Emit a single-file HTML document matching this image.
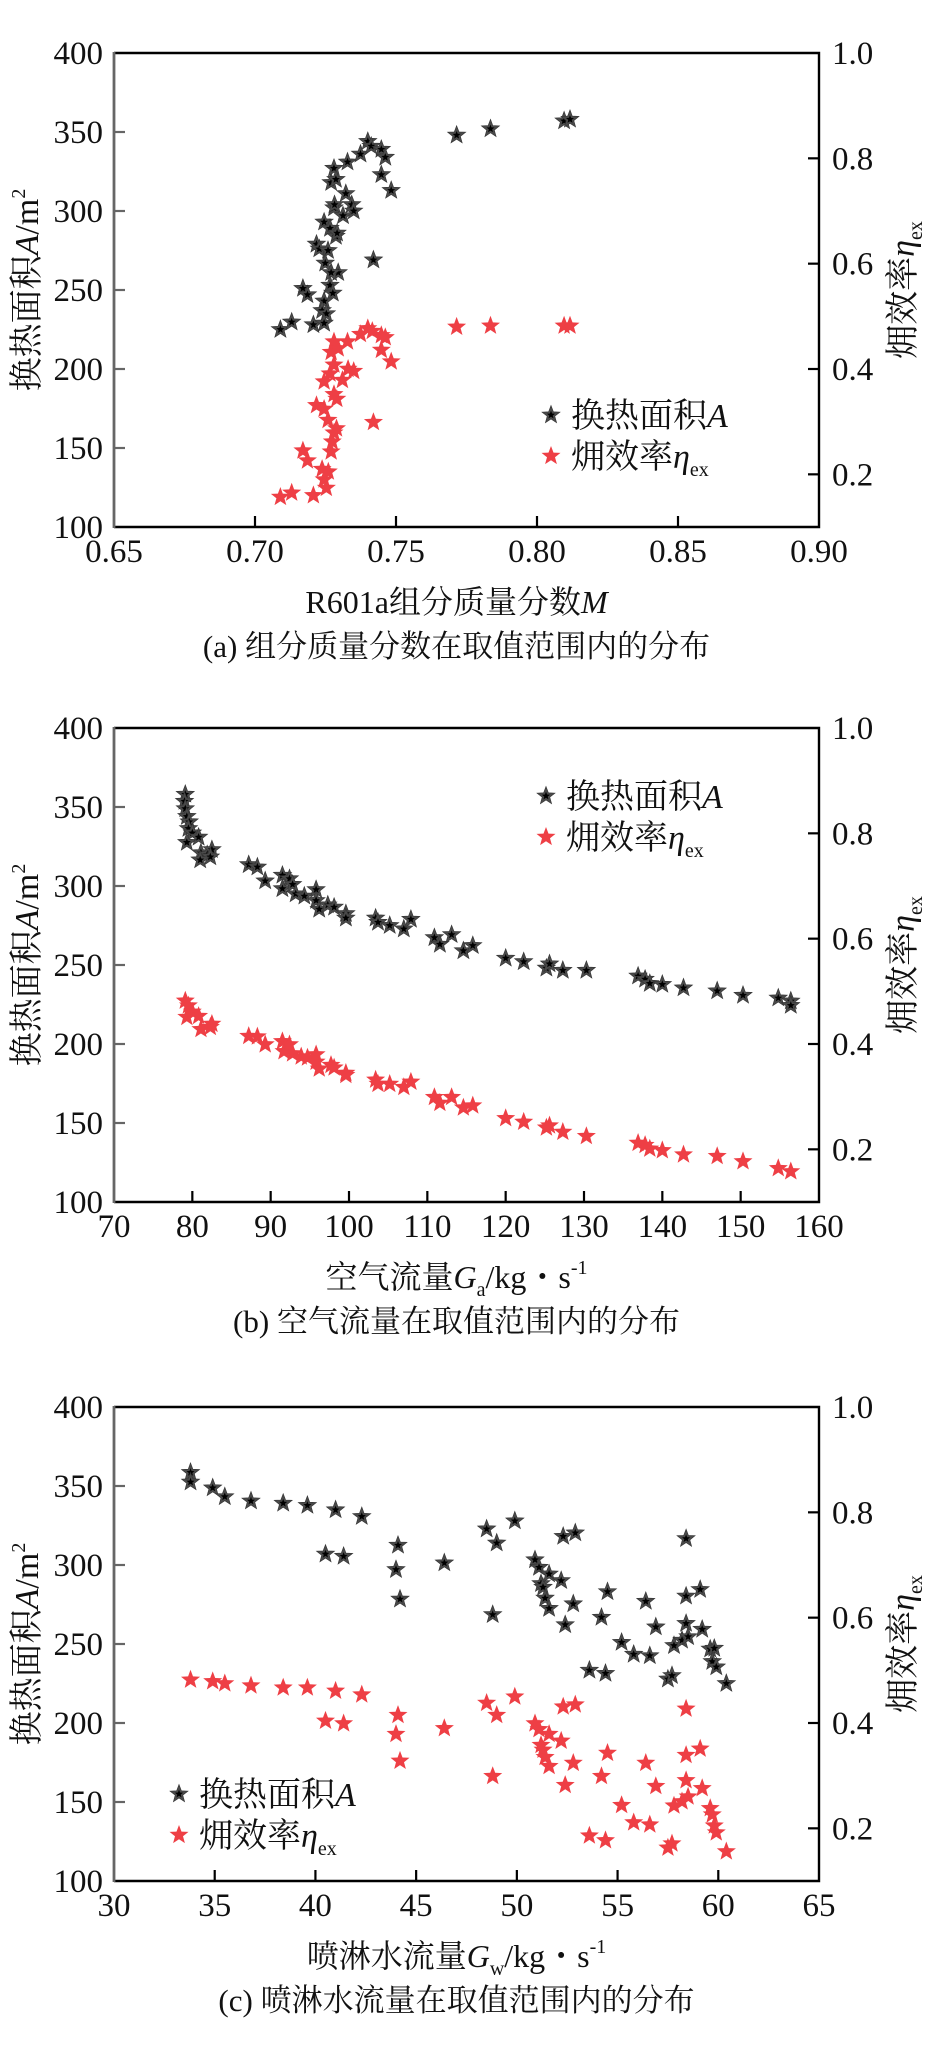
<!DOCTYPE html>
<html><head><meta charset="utf-8">
<style>
html,body{margin:0;padding:0;background:#fff;}
svg{display:block;}
text{font-family:"Liberation Serif","Noto Serif CJK SC",serif;fill:#111;}
</style></head>
<body>
<svg id="fig" width="928" height="2057" viewBox="0 0 928 2057" xmlns="http://www.w3.org/2000/svg"></svg>
<script>
// ---------- Chart (a) data ----------
const aTicksX = ["0.65","0.70","0.75","0.80","0.85","0.90"];
const aBlackX = [0.709,0.713,0.7207,0.717,0.7186,0.7218,0.7228,0.7245,0.7259,0.7249,0.7266,0.728,0.7282,0.727,0.728,0.7287,0.7295,0.727,0.7266,0.7276,0.7245,0.7238,0.7253,0.7245,0.7322,0.7343,0.735,0.7312,0.7328,0.7374,0.74,0.7412,0.7448,0.7462,0.7448,0.7483,0.742,0.7715,0.7835,0.8096,0.8117,0.7287,0.7291];
const aBlackA = [225,229.7,228,251,247,279,276,293,275,267,289,302,304,318,327,320,261,261,253,248,243,237,235,229,311,304,300,297,331,336,344,341,339,334,323,313,269,348,352,357,358,284,286];
const aRedX = [0.709,0.713,0.7207,0.717,0.7186,0.7218,0.7245,0.7259,0.7238,0.7245,0.7253,0.727,0.7274,0.728,0.7289,0.7245,0.7266,0.728,0.727,0.728,0.7295,0.728,0.729,0.731,0.733,0.735,0.7328,0.7374,0.74,0.7416,0.7448,0.7462,0.7448,0.7483,0.742,0.7715,0.7835,0.8096,0.8117,0.726];
const aRedEta = [0.157,0.165,0.160,0.245,0.226,0.331,0.324,0.303,0.210,0.190,0.174,0.243,0.262,0.279,0.287,0.376,0.391,0.408,0.432,0.452,0.439,0.352,0.343,0.379,0.400,0.396,0.452,0.466,0.477,0.472,0.464,0.460,0.436,0.414,0.299,0.480,0.482,0.482,0.482,0.205];

// ---------- Chart (b) data ----------
const bTicksX = ["70","80","90","100","110","120","130","140","150","160"];
const bBlackX = [79.1,79.0,79.1,79.3,79.6,79.5,80.0,80.8,79.3,81.1,81.9,82.5,82.3,81.0,87.2,88.3,89.3,91.5,92.4,91.5,92.8,93.2,94.3,95.8,95.8,96.2,97.3,98.1,99.6,99.6,103.4,103.7,105.2,107.0,107.9,110.9,111.6,113.1,114.6,115.8,120.0,122.3,125.2,125.6,127.3,130.3,136.9,137.8,138.4,140.0,142.7,147.0,150.3,154.8,156.4,156.4];
const bBlackA = [358,353.6,348.9,344,340.6,336.4,333.6,330.9,327.6,321,319.8,323,318.4,316.5,313.5,312,303.2,306.8,304.6,298.3,301,295,293.6,297.7,290.8,285.3,288,286.6,282.5,279.7,279.7,277,275,272.8,278.9,267.3,263.1,269.2,259,262.3,254.3,252.1,248,250.7,246.6,246.6,243,241,238.3,237.7,235.5,233.6,230.8,229.1,227.2,224.4];
const bRedX = [79.1,79.5,79.3,80.0,80.8,81.1,82.3,82.5,87.2,88.3,89.3,91.5,91.7,92.4,92.8,93.9,94.7,95.8,95.8,96.2,97.7,98.1,99.6,99.6,103.4,103.7,105.2,107.0,107.9,110.9,111.6,113.1,114.6,115.8,120.0,122.3,125.2,125.6,127.3,130.3,136.9,137.8,138.4,140.0,142.7,147.0,150.3,154.8,156.4];
const bRedEta = [0.482,0.473,0.451,0.461,0.453,0.428,0.432,0.438,0.415,0.414,0.399,0.405,0.386,0.399,0.382,0.376,0.374,0.380,0.366,0.353,0.360,0.355,0.345,0.341,0.332,0.324,0.324,0.318,0.328,0.299,0.288,0.299,0.279,0.283,0.259,0.252,0.241,0.245,0.233,0.225,0.212,0.208,0.201,0.198,0.190,0.187,0.177,0.164,0.158];

// ---------- Chart (c) data ----------
const cTicksX = ["30","35","40","45","50","55","60","65"];
const cBlackX = [33.8,33.8,34.9,35.5,36.8,38.4,39.6,41.0,42.3,40.5,41.4,44.1,44.0,44.2,46.4,48.5,49.0,48.8,49.9,50.9,51.1,51.2,51.3,51.6,51.4,51.6,52.2,52.3,52.9,52.4,52.8,54.2,54.5,55.2,55.8,56.4,56.6,56.9,53.6,54.4,57.5,57.7,57.8,58.2,58.4,58.5,58.4,58.4,59.1,59.2,59.6,59.8,59.7,59.9,60.4];
const cBlackA = [358.6,352.5,348.8,343.2,340.5,339.1,337.7,334.9,330.7,306.9,305.5,312.5,297.1,278.4,301.3,322.8,313.9,268.6,327.9,303.3,298.5,288.2,285.9,294.3,279,272.5,290.1,318.1,320.3,262.2,275.4,266.9,283.1,251,243.5,277,242.6,260.8,233.4,231.4,227.8,230,249,252.4,263,254.6,280.3,316.7,284.5,259.3,246.8,247.3,238.9,235.5,225];
const cRedX = [33.8,34.9,35.5,36.8,38.4,39.6,41.0,42.3,40.5,41.4,44.1,44.0,44.2,46.4,48.5,49.0,48.8,49.9,50.9,51.1,51.2,51.3,51.6,51.4,51.6,52.2,52.3,52.9,52.4,52.8,54.2,54.5,55.2,55.8,56.4,56.6,56.9,53.6,54.4,57.5,57.7,57.8,58.2,58.5,58.4,58.4,58.4,59.1,59.2,59.6,59.7,59.8,59.9,60.4];
const cRedEta = [0.482,0.479,0.475,0.471,0.467,0.467,0.461,0.454,0.404,0.399,0.415,0.379,0.328,0.390,0.438,0.415,0.299,0.450,0.399,0.388,0.358,0.349,0.379,0.335,0.318,0.366,0.431,0.435,0.282,0.324,0.299,0.343,0.244,0.211,0.324,0.207,0.280,0.186,0.177,0.163,0.171,0.243,0.251,0.260,0.291,0.339,0.427,0.351,0.276,0.238,0.226,0.205,0.192,0.156];

const leftTicks = ["100","150","200","250","300","350","400"];
const rightTicks = ["0.2","0.4","0.6","0.8","1.0"];

const NS = "http://www.w3.org/2000/svg";
const fig = document.getElementById('fig');
function mk(tag, attrs, parent){
  const e = document.createElementNS(NS, tag);
  for (const k in attrs) e.setAttribute(k, attrs[k]);
  (parent||fig).appendChild(e);
  return e;
}
function starPts(cx, cy, R, r){
  const p = [];
  for (let i=0;i<10;i++){
    const rad = i%2===0 ? R : r;
    const ang = -Math.PI/2 + i*Math.PI/5;
    p.push((cx+rad*Math.cos(ang)).toFixed(1)+","+(cy+rad*Math.sin(ang)).toFixed(1));
  }
  return p.join(" ");
}
function blackStar(g, cx, cy){
  const s = mk('polygon', {points: starPts(cx,cy,9.5,4), fill:'#4a4a4a', stroke:'#333', 'stroke-width':0.6}, g);
  
  
  const c = mk('polygon', {points: starPts(cx,cy,4.2,1.8), fill:'#000'}, g);
  
  
}
function redStar(g, cx, cy){
  const s = mk('polygon', {points: starPts(cx,cy,10,4.2), fill:'#ee3f45'}, g);
  
  
}

function chart(opt){
  const L=114, R=819, T=opt.top, B=opt.top+474;
  const g = mk('g', {});
  
  
  const xs = v => L + (v-opt.xmin)/(opt.xmax-opt.xmin)*(R-L);
  const yA = v => B - (v-100)/300*(B-T);
  const yE = v => B - (v-0.1)/0.9*(B-T);

  leftTicks.forEach(t=>{
    const v = parseFloat(t), y = yA(v);
    if (v>100 && v<400){ const tk = mk('line',{x1:L,x2:L+11,y1:y,y2:y,stroke:'#666','stroke-width':2.2},g);
        }
    const tx = mk('text',{x:103,y:y+11,'font-size':33,'text-anchor':'end'},g); tx.textContent=t;
     
  });
  rightTicks.forEach(t=>{
    const v = parseFloat(t), y = yE(v);
    if (v<1){ const tk = mk('line',{x1:R-11,x2:R,y1:y,y2:y,stroke:'#000','stroke-width':2.2},g);
        }
    const tx = mk('text',{x:832,y:y+11,'font-size':33},g); tx.textContent=t;
     
  });
  opt.ticks.forEach(t=>{
    const v = parseFloat(t), x = xs(v);
    if (x>L+1 && x<R-1){ const tk = mk('line',{x1:x,x2:x,y1:B-11,y2:B,stroke:'#000','stroke-width':2.2},g);
        }
    const tx = mk('text',{x:x,y:B+35,'font-size':33,'text-anchor':'middle'},g); tx.textContent=t;
     
  });
  const fr = mk('path',{d:`M${L},${T} L${R},${T} L${R},${B} L${L},${B}`,fill:'none',stroke:'#000','stroke-width':2.4},g);
   
  const la = mk('line',{x1:L,x2:L,y1:T-1,y2:B+1,stroke:'#666','stroke-width':2.8},g);
   

  const n1 = Math.min(opt.bx.length, opt.ba.length);
  for (let i=0;i<n1;i++) blackStar(g, xs(opt.bx[i]), yA(opt.ba[i]));
  const n2 = Math.min(opt.rx.length, opt.re.length);
  for (let i=0;i<n2;i++) redStar(g, xs(opt.rx[i]), yE(opt.re[i]));

  const lg = mk('g',{},g);
   
  blackStar(lg, opt.lx, T+opt.ly1);
  const t1 = mk('text',{x:opt.lx+20,y:T+opt.ly1+12,'font-size':34},lg);
   
  t1.innerHTML = '换热面积<tspan font-style="italic">A</tspan>';
  redStar(lg, opt.lx, T+opt.ly2);
  const t2 = mk('text',{x:opt.lx+20,y:T+opt.ly2+12,'font-size':34},lg);
   
  t2.innerHTML = '㶲效率<tspan font-style="italic">η</tspan><tspan font-size="20" dy="8">ex</tspan>';

  const yl = mk('text',{x:0,y:0,'font-size':34,'text-anchor':'middle',transform:`translate(38,${(T+B)/2}) rotate(-90)`},g);
   
  yl.innerHTML = '换热面积<tspan font-style="italic">A</tspan>/m<tspan font-size="20" dy="-13">2</tspan>';
  const yr = mk('text',{x:0,y:0,'font-size':34,'text-anchor':'middle',transform:`translate(914,${(T+B)/2}) rotate(-90)`},g);
   
  yr.innerHTML = '㶲效率<tspan font-style="italic">η</tspan><tspan font-size="20" dy="8">ex</tspan>';
  const xl = mk('text',{x:(L+R)/2-10,y:B+86,'font-size':32,'text-anchor':'middle'},g);
   
  xl.innerHTML = opt.xtitle;
  const cp = mk('text',{x:(L+R)/2-10,y:B+130,'font-size':31,'text-anchor':'middle'},g);
   
  cp.textContent = opt.caption;
}

chart({name:'chart-mass-fraction', top:53, xmin:0.65, xmax:0.90, ticks:aTicksX,
  bx:aBlackX, ba:aBlackA, rx:aRedX, re:aRedEta, lx:551, ly1:362, ly2:403,
  xtitle:'R601a组分质量分数<tspan font-style="italic">M</tspan>', caption:'(a) 组分质量分数在取值范围内的分布'});
chart({name:'chart-air-flow', top:728, xmin:70, xmax:160, ticks:bTicksX,
  bx:bBlackX, ba:bBlackA, rx:bRedX, re:bRedEta, lx:546, ly1:68, ly2:109,
  xtitle:'空气流量<tspan font-style="italic">G</tspan><tspan font-size="20" dy="8">a</tspan><tspan dy="-8">/kg・s</tspan><tspan font-size="20" dy="-14">-1</tspan>', caption:'(b) 空气流量在取值范围内的分布'});
chart({name:'chart-spray-water-flow', top:1407, xmin:30, xmax:65, ticks:cTicksX,
  bx:cBlackX, ba:cBlackA, rx:cRedX, re:cRedEta, lx:179, ly1:387, ly2:428,
  xtitle:'喷淋水流量<tspan font-style="italic">G</tspan><tspan font-size="20" dy="8">w</tspan><tspan dy="-8">/kg・s</tspan><tspan font-size="20" dy="-14">-1</tspan>', caption:'(c) 喷淋水流量在取值范围内的分布'});
</script>
</body></html>
